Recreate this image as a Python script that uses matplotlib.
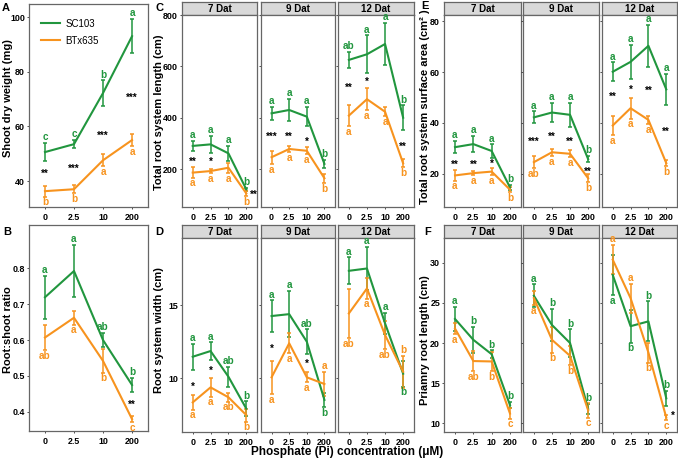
import numpy as np
import matplotlib.pyplot as plt
from matplotlib.lines import Line2D

plt.rcParams['font.family'] = ['Liberation Sans', 'DejaVu Sans']

GREEN = '#21963E'
ORANGE = '#F7931E'

pi_labels = ["0", "2.5", "10", "200"]
days = ["7 Dat", "9 Dat", "12 Dat"]
x = np.arange(1, 5)

# A: shoot dry weight (mg)
a_sc = [50.6, 53.5, 72.2, 93.0]
a_sc_se = [3.3, 1.5, 4.7, 6.3]
a_bt = [36.3, 37.0, 47.6, 55.0]
a_bt_se = [2.0, 1.5, 2.2, 2.2]
a_sc_let, a_sc_dir = "c c b a", "+ + + +"
a_bt_let, a_bt_dir = "b b a a", "- - - -"
a_stars = [(1, 43.3, "**"), (2, 45.1, "***"), (3, 57.2, "***"), (4, 71.1, "***")]

# B: root:shoot ratio
b_sc = [0.719, 0.792, 0.600, 0.475]
b_sc_se = [0.06, 0.072, 0.02, 0.02]
b_bt = [0.607, 0.662, 0.542, 0.380]
b_bt_se = [0.035, 0.019, 0.033, 0.008]
b_sc_let, b_sc_dir = "a a ab b", "+ + + +"
b_bt_let, b_bt_dir = "ab a b c", "- - - -"
b_stars = [(4, 0.426, "**")]

# C: total root system length (cm)
c_sc = {"7 Dat": [290, 296, 261, 121], "9 Dat": [417, 430, 404, 220], "12 Dat": [625, 647, 687, 400]}
c_sc_se = {"7 Dat": [21, 33, 30, 6], "9 Dat": [26, 42, 38, 16], "12 Dat": [31, 74, 82, 48]}
c_bt = {"7 Dat": [186, 192, 205, 105], "9 Dat": [246, 278, 271, 164], "12 Dat": [408, 472, 423, 222]}
c_bt_se = {"7 Dat": [20, 9, 20, 10], "9 Dat": [26, 13, 14, 18], "12 Dat": [40, 42, 18, 16]}
c_sc_let = {"7 Dat": ("a a a b", "+ + + +"), "9 Dat": ("a a a b", "+ + + +"), "12 Dat": ("ab a a b", "+ + + +")}
c_bt_let = {"7 Dat": ("a a a b", "- - - -"), "9 Dat": ("a a a b", "- - - -"), "12 Dat": ("a a a b", "- - - -")}
c_stars = {"7 Dat": [(1, 235, "**"), (2, 235, "*"), (4.4, 106, "**")],
           "9 Dat": [(1, 335, "***"), (2, 335, "**"), (3, 313, "*")],
           "12 Dat": [(1, 523, "**"), (2, 547, "*"), (4, 296, "**")]}

# D: root system width (cm)
d_sc = {"7 Dat": [11.46, 11.85, 10.09, 7.9], "9 Dat": [14.25, 14.38, 12.49, 8.5], "12 Dat": [17.35, 17.51, 13.75, 10.3]}
d_sc_se = {"7 Dat": [0.9, 0.6, 0.7, 0.5], "9 Dat": [1.08, 1.6, 0.85, 0.5], "12 Dat": [0.93, 1.5, 0.7, 0.9]}
d_bt = {"7 Dat": [8.33, 9.36, 8.68, 7.46], "9 Dat": [10.05, 12.38, 10.05, 9.59], "12 Dat": [14.43, 16.14, 12.95, 10.43]}
d_bt_se = {"7 Dat": [0.5, 0.63, 0.3, 0.45], "9 Dat": [1.14, 0.68, 0.34, 0.85], "12 Dat": [1.7, 0.7, 0.95, 1.08]}
d_sc_let = {"7 Dat": ("a a ab b", "+ + + +"), "9 Dat": ("a a ab b", "+ + + -"), "12 Dat": ("a a a b", "+ + + -")}
d_bt_let = {"7 Dat": ("a a ab b", "- - - -"), "9 Dat": ("a a a a", "- - - +"), "12 Dat": ("ab a ab b", "- - - +")}
d_stars = {"7 Dat": [(1, 9.52, "*"), (2, 10.66, "*")],
           "9 Dat": [(1, 12.14, "*"), (3, 11.12, "*")],
           "12 Dat": []}

# E: total root system surface area (cm2)
e_sc = {"7 Dat": [30.5, 31.7, 29.0, 14.7], "9 Dat": [42.2, 44.1, 43.2, 25.8], "12 Dat": [60.1, 64.0, 70.3, 53.2]}
e_sc_se = {"7 Dat": [2.4, 3.2, 2.6, 1.0], "9 Dat": [2.4, 3.9, 4.7, 1.3], "12 Dat": [3.7, 6.7, 8.2, 6.2]}
e_bt = {"7 Dat": [19.4, 20.3, 20.9, 13.8], "9 Dat": [24.6, 28.5, 27.9, 18.3], "12 Dat": [39.0, 45.8, 41.2, 24.2]}
e_bt_se = {"7 Dat": [2.1, 0.9, 1.3, 1.0], "9 Dat": [2.4, 1.4, 1.3, 1.6], "12 Dat": [3.8, 4.1, 1.6, 1.2]}
e_sc_let = {"7 Dat": ("a a a b", "+ + + +"), "9 Dat": ("a a a b", "+ + + +"), "12 Dat": ("a a a a", "+ + + +")}
e_bt_let = {"7 Dat": ("a a a b", "- - - -"), "9 Dat": ("ab a a b", "- - - -"), "12 Dat": ("a a a b", "- - - -")}
e_stars = {"7 Dat": [(1, 24.2, "**"), (2, 24.2, "**"), (3, 24.8, "*")],
           "9 Dat": [(1, 33.4, "***"), (2, 35.3, "**"), (3, 33.4, "**"), (4, 21.6, "**")],
           "12 Dat": [(1, 51.0, "**"), (2, 54.0, "*"), (3, 53.3, "**"), (4, 37.3, "**")]}

# F: primary root length (cm)
f_sc = {"7 Dat": [23.0, 20.4, 18.6, 12.25], "9 Dat": [25.9, 22.25, 20.0, 11.8], "12 Dat": [28.5, 22.1, 22.7, 13.1]}
f_sc_se = {"7 Dat": [1.5, 1.6, 0.5, 0.4], "9 Dat": [1.4, 2.05, 1.7, 0.6], "12 Dat": [2.5, 2.05, 2.5, 0.9]}
f_bt = {"7 Dat": [21.8, 17.75, 17.7, 11.2], "9 Dat": [25.6, 20.4, 18.4, 11.6], "12 Dat": [30.4, 25.6, 18.8, 10.7]}
f_bt_se = {"7 Dat": [0.7, 1.25, 1.2, 0.65], "9 Dat": [0.9, 1.6, 1.2, 0.9], "12 Dat": [1.85, 1.8, 1.25, 0.3]}
f_sc_let = {"7 Dat": ("a b b b", "+ + + +"), "9 Dat": ("a b b b", "+ + + +"), "12 Dat": ("a b b b", "- - + +")}
f_bt_let = {"7 Dat": ("a ab b c", "- - - -"), "9 Dat": ("a b b c", "- - - -"), "12 Dat": ("a a b c", "+ + - -")}
f_stars = {"7 Dat": [], "9 Dat": [], "12 Dat": [(4.35, 11.2, "*")]}

W, H = 678, 461
fig = plt.figure(figsize=(W / 100, H / 100), dpi=100)


def px_axes(l, t, r, b):
    return fig.add_axes([l / W, 1 - b / H, (r - l) / W, (b - t) / H])


def style(ax, ylim, yticks, show_y=True, xlim=(0.4, 4.6)):
    ax.set_xlim(*xlim)
    ax.set_ylim(*ylim)
    ax.set_xticks(x)
    ax.set_xticklabels(pi_labels)
    ax.set_yticks(yticks)
    if not show_y:
        ax.set_yticklabels([])
    ax.tick_params(length=1.6, width=0.6, color='#333333', labelsize=6.4, pad=1.2)
    ax.tick_params(axis='x', pad=2.5)
    for lab in ax.get_xticklabels() + ax.get_yticklabels():
        lab.set_fontweight('bold')
    for s in ax.spines.values():
        s.set_color('#666666')
        s.set_linewidth(0.9)


def draw(ax, sc, sc_se, bt, bt_se, sc_let, bt_let, stars):
    for m, e, col, (let, dirs) in ((sc, sc_se, GREEN, sc_let), (bt, bt_se, ORANGE, bt_let)):
        ax.errorbar(x, m, yerr=e, color=col, lw=1.5, elinewidth=1.1, capsize=1.6, capthick=1.1)
        for xi, mi, ei, l, d in zip(x, m, e, let.split(), dirs.split()):
            if d == '+':
                ax.annotate(l, (xi, mi + ei), xytext=(0, 0.5), textcoords='offset points',
                            ha='center', va='bottom', color=col, fontsize=7.2, fontweight='bold')
            else:
                ax.annotate(l, (xi, mi - ei), xytext=(0, -0.5), textcoords='offset points',
                            ha='center', va='top', color=col, fontsize=7.2, fontweight='bold')
    for sx, sy, st in stars:
        ax.annotate(st, (sx, sy), xytext=(0, -1.5), textcoords='offset points',
                    ha='center', va='center', fontsize=7, fontweight='bold')


def strip(l, t, r, b, label):
    s = px_axes(l, t, r, b)
    s.set_facecolor('#D9D9D9')
    s.set_xticks([])
    s.set_yticks([])
    for sp in s.spines.values():
        sp.set_color('#666666')
        sp.set_linewidth(0.9)
    s.text(0.5, 0.45, label, ha='center', va='center', fontsize=7, fontweight='bold',
           transform=s.transAxes)


# A
axA = px_axes(29, 4, 148, 207)
draw(axA, a_sc, a_sc_se, a_bt, a_bt_se, (a_sc_let, a_sc_dir), (a_bt_let, a_bt_dir), a_stars)
style(axA, (30.5, 104.8), [40, 60, 80, 100], xlim=(0.45, 4.55))
handles = [Line2D([], [], color=GREEN, lw=1.5), Line2D([], [], color=ORANGE, lw=1.5)]
axA.legend(handles, ["SC103", "BTx635"], loc='upper left', frameon=False,
           fontsize=7, handlelength=1.9, handletextpad=0.6, bbox_to_anchor=(0.03, 0.97),
           labelspacing=0.7)

# B
axB = px_axes(29, 225, 148, 431)
draw(axB, b_sc, b_sc_se, b_bt, b_bt_se, (b_sc_let, b_sc_dir), (b_bt_let, b_bt_dir), b_stars)
style(axB, (0.347, 0.92), [0.4, 0.5, 0.6, 0.7, 0.8], xlim=(0.45, 4.55))

col_mid = [(182, 257), (261, 335), (338, 414)]
col_right = [(444, 521), (523, 599), (602, 677)]

facet_sets = [
    (col_mid, 2, 15, 207, c_sc, c_sc_se, c_bt, c_bt_se, c_sc_let, c_bt_let, c_stars, (52, 800), [200, 400, 600, 800]),
    (col_mid, 225, 238, 432, d_sc, d_sc_se, d_bt, d_bt_se, d_sc_let, d_bt_let, d_stars, (6.3, 19.6), [10, 15]),
    (col_right, 2, 15, 207, e_sc, e_sc_se, e_bt, e_bt_se, e_sc_let, e_bt_let, e_stars, (7, 82.4), [20, 40, 60, 80]),
    (col_right, 225, 238, 432, f_sc, f_sc_se, f_bt, f_bt_se, f_sc_let, f_bt_let, f_stars, (8.9, 33.1), [10, 15, 20, 25, 30]),
]

for cols, st, pt, pb, sc, sc_se, bt, bt_se, sc_let, bt_let, stars, ylim, yt in facet_sets:
    for i, (day, (l, r)) in enumerate(zip(days, cols)):
        strip(l, st, r, pt, day)
        ax = px_axes(l, pt, r, pb)
        draw(ax, sc[day], sc_se[day], bt[day], bt_se[day], sc_let[day], bt_let[day], stars[day])
        style(ax, ylim, yt, show_y=(i == 0))

# axis titles
lab = dict(rotation=90, ha='center', va='center', fontsize=8, fontweight='bold')
fig.text(8 / W, 1 - 98 / H, "Shoot dry weight (mg)", **lab)
fig.text(8 / W, 1 - 330 / H, "Root:shoot ratio", **lab)
fig.text(159 / W, 1 - 112 / H, "Total root system length (cm)", **lab)
fig.text(159 / W, 1 - 330 / H, "Root system width (cm)", **lab)
fig.text(425.5 / W, 1 - 107 / H, "Total root system surface area (cm² )", **lab)
fig.text(425.5 / W, 1 - 340 / H, "Priamry root length (cm)", **lab)
fig.text(347 / W, 1 - 452 / H, "Phosphate (Pi) concentration (μM)", ha='center', va='center',
         fontsize=8.5, fontweight='bold')

# panel letters
for t, px, py in [("A", 2, 8), ("B", 3, 232), ("C", 155, 8), ("D", 155, 232), ("E", 421, 6), ("F", 424, 232)]:
    fig.text(px / W, 1 - py / H, t, ha='left', va='center', fontsize=8, fontweight='bold')

fig.savefig("out.png", dpi=100)
